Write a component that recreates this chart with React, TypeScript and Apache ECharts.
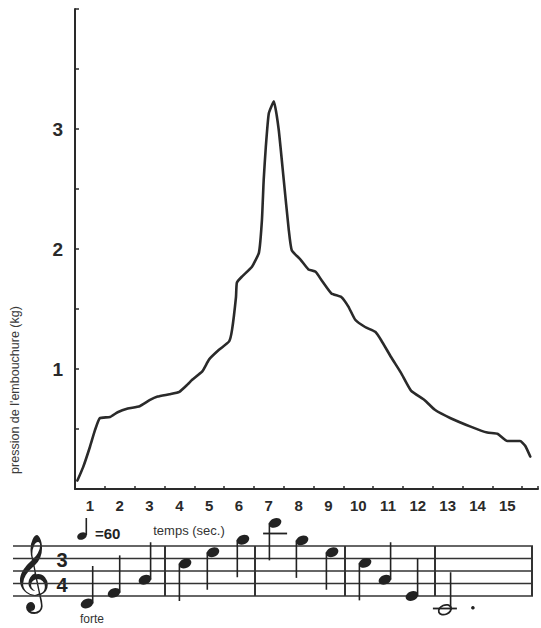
import React, { useEffect, useRef } from 'react';
import * as echarts from 'echarts';

// ---- curve data (time in seconds, mouthpiece pressure in kg) ----
const timeSec = [0.08, 0.27, 0.5, 0.67, 0.83, 1.17, 1.43, 1.77, 2.17, 2.5, 2.77, 3.17, 3.5, 3.77, 3.93, 4.27, 4.5, 4.83, 5.17, 5.27, 5.4, 5.43, 5.6, 5.93, 6.17, 6.27, 6.33, 6.4, 6.5, 6.67, 6.83, 7.0, 7.17, 7.27, 7.57, 7.83, 8.07, 8.27, 8.6, 8.93, 9.17, 9.4, 9.73, 10.07, 10.27, 10.6, 10.93, 11.27, 11.73, 12.07, 12.6, 13.27, 13.83, 14.17, 14.5, 14.93, 15.1, 15.27];
const pressureKg = [0.07, 0.18, 0.35, 0.49, 0.59, 0.6, 0.64, 0.67, 0.69, 0.74, 0.77, 0.79, 0.81, 0.87, 0.91, 0.98, 1.08, 1.16, 1.23, 1.33, 1.6, 1.72, 1.77, 1.85, 1.97, 2.24, 2.58, 2.85, 3.13, 3.23, 3.0, 2.58, 2.16, 1.99, 1.91, 1.83, 1.81, 1.74, 1.63, 1.6, 1.52, 1.41, 1.35, 1.31, 1.24, 1.1, 0.97, 0.82, 0.74, 0.66, 0.59, 0.52, 0.47, 0.46, 0.4, 0.4, 0.36, 0.27];

const xTickLabels = ['1', '2', '3', '4', '5', '6', '7', '8', '9', '10', '11', '12', '13', '14', '15'];
const yTickLabels = ['1', '2', '3'];

// ---- music staff (time of each note in seconds, staff step from E4 = 0) ----
const noteTimes = [0.4, 1.3, 2.33, 3.67, 4.6, 5.6, 6.67, 7.57, 8.57, 9.67, 10.33, 11.23, 12.33];
const noteSteps = [-1.2, 0.5, 2.6, 5.2, 7, 9, 11.7, 8.9, 7, 5.3, 2.6, 0, -2.2];
const noteStems = [1, 1, 1, -1, -1, -1, -1, -1, -1, -1, 1, 1, 1];
const noteBeats = [1, 1, 1, 1, 1, 1, 1, 1, 1, 1, 1, 1, 3];
const barTimes = [3, 6, 9, 12];
const staffLineSteps = [0, 2, 4, 6, 8];

const INK = '#2a2a2a';
const X_MAX = 15.53;
const STAFF_X_MIN = -2.0667;
const STAFF_X_MAX = 15.2667;

export default function App() {
  const ref = useRef<HTMLDivElement>(null);
  useEffect(() => {
    const chart = echarts.init(ref.current!, null, { renderer: 'svg' });

    const option: any = {
      animation: false,
      backgroundColor: '#ffffff',
      grid: [
        { left: 75, right: 0, top: 9, height: 480 },
        { left: 13, right: 8, top: 521, height: 100 },
      ],
      xAxis: [
        {
          gridIndex: 0, type: 'value', position: 'bottom', min: 0, max: X_MAX, interval: 1,
          axisLine: { show: true, lineStyle: { color: INK, width: 2 } },
          axisTick: { show: true, inside: true, length: 3, lineStyle: { color: INK, width: 1.5 } },
          axisLabel: { show: false },
          splitLine: { show: false },
        },
        {
          gridIndex: 0, type: 'value', position: 'bottom', offset: 0, min: 0, max: X_MAX, interval: 0.5,
          axisLine: { show: false }, axisTick: { show: false }, splitLine: { show: false },
          axisLabel: {
            show: true, margin: 9, fontSize: 15, fontWeight: 'bold', color: INK,
            fontFamily: 'Liberation Sans, Arial, sans-serif',
            formatter: (v: number) => {
              const idx = Math.round(v * 2);
              if (idx % 2 === 1) return xTickLabels[(idx - 1) / 2] ?? '';
              return '';
            },
          },
        },
        { gridIndex: 1, type: 'value', min: STAFF_X_MIN, max: STAFF_X_MAX, show: false },
      ],
      yAxis: [
        {
          gridIndex: 0, type: 'value', min: 0, max: 4, interval: 0.5,
          axisLine: { show: true, lineStyle: { color: INK, width: 2 } },
          axisTick: { show: true, inside: true, length: 4, lineStyle: { color: INK, width: 1.5 } },
          splitLine: { show: false },
          axisLabel: {
            show: true, margin: 12, fontSize: 19, fontWeight: 'bold', color: INK,
            fontFamily: 'Liberation Sans, Arial, sans-serif',
            formatter: (v: number) => (Number.isInteger(v) && v >= 1 && v <= 3 ? yTickLabels[v - 1] : ''),
          },
        },
        { gridIndex: 1, type: 'value', min: -4, max: 12, show: false },
      ],
      series: [
        {
          type: 'line', xAxisIndex: 0, yAxisIndex: 0,
          data: timeSec.map((t, i) => [t, pressureKg[i]]),
          showSymbol: false, smooth: 0.15,
          lineStyle: { color: INK, width: 2.6, join: 'round', cap: 'round' },
        },
        {
          type: 'custom', xAxisIndex: 2, yAxisIndex: 1,
          data: [[0, 0]],
          renderItem: (params: any, api: any) => {
            const children: any[] = [];
            const xL = api.coord([STAFF_X_MIN, 0])[0];
            const xR = api.coord([STAFF_X_MAX, 0])[0];
            staffLineSteps.forEach((s) => {
              const y = api.coord([0, s])[1];
              children.push({ type: 'line', shape: { x1: xL, y1: y, x2: xR, y2: y }, style: { stroke: '#333', lineWidth: 1.4 } });
            });
            const yTop = api.coord([0, 8])[1];
            const yBot = api.coord([0, 0])[1];
            [...barTimes, STAFF_X_MAX].forEach((t) => {
              const x = api.coord([t, 0])[0] - (t === STAFF_X_MAX ? 1 : 0);
              children.push({ type: 'line', shape: { x1: x, y1: yTop, x2: x, y2: yBot }, style: { stroke: '#333', lineWidth: 2 } });
            });
            return { type: 'group', children };
          },
        },
        {
          type: 'custom', xAxisIndex: 2, yAxisIndex: 1,
          data: noteTimes.map((t, i) => [t, noteSteps[i], noteStems[i], noteBeats[i]]),
          renderItem: (params: any, api: any) => {
            const t = api.value(0);
            const s = api.value(1);
            const dir = api.value(2);
            const beats = api.value(3);
            const [cx, cy] = api.coord([t, s]);
            const stepPx = Math.abs(api.coord([t, 0])[1] - api.coord([t, 1])[1]);
            const rx = 6.5;
            const ry = 4.6;
            const children: any[] = [];
            const ledgers: number[] = [];
            for (let l = 10; l <= s; l += 2) ledgers.push(l);
            for (let l = -2; l >= s - 0.6; l -= 2) ledgers.push(l);
            ledgers.forEach((l) => {
              const y = api.coord([t, l])[1];
              children.push({ type: 'line', shape: { x1: cx - 12, y1: y, x2: cx + 12, y2: y }, style: { stroke: '#222', lineWidth: 1.8 } });
            });
            const hollow = beats >= 2;
            children.push({
              type: 'ellipse', x: cx, y: cy, rotation: 0.4,
              shape: { cx: 0, cy: 0, rx, ry },
              style: hollow ? { fill: 'none', stroke: '#222', lineWidth: 1.8 } : { fill: '#222' },
            });
            const stemX = dir > 0 ? cx + rx - 0.8 : cx - rx + 0.8;
            const stemLen = 6 * stepPx;
            children.push({ type: 'line', shape: { x1: stemX, y1: cy, x2: stemX, y2: cy - dir * stemLen }, style: { stroke: '#222', lineWidth: 1.6 } });
            if (beats === 3) {
              children.push({ type: 'circle', shape: { cx: cx + 28, cy: cy - 2, r: 1.8 }, style: { fill: '#222' } });
            }
            return { type: 'group', children };
          },
        },
      ],
      graphic: [
        {
          type: 'text', x: 15, y: 390, rotation: Math.PI / 2,
          style: {
            text: "pression de l'embouchure (kg)", fontSize: 12.5, fill: '#3a3a3a',
            fontFamily: 'Liberation Sans, Arial, sans-serif', align: 'center', verticalAlign: 'middle',
          },
        },
        {
          type: 'text', x: 189, y: 530,
          style: { text: 'temps (sec.)', fontSize: 13, fill: '#333', fontFamily: 'Liberation Sans, Arial, sans-serif', align: 'center', verticalAlign: 'middle' },
        },
        {
          type: 'text', x: 92, y: 619,
          style: { text: 'forte', fontSize: 12, fill: '#333', fontFamily: 'Liberation Sans, Arial, sans-serif', align: 'center', verticalAlign: 'middle' },
        },
        // tempo mark: quarter note = 60
        { type: 'ellipse', x: 82, y: 536, rotation: 0.4, shape: { cx: 0, cy: 0, rx: 5, ry: 3.6 }, style: { fill: '#222' } },
        { type: 'line', shape: { x1: 86.3, y1: 535, x2: 86.3, y2: 518 }, style: { stroke: '#222', lineWidth: 1.6 } },
        {
          type: 'text', x: 95, y: 533,
          style: { text: '=60', fontSize: 15, fontWeight: 'bold', fill: '#222', fontFamily: 'Liberation Sans, Arial, sans-serif', align: 'left', verticalAlign: 'middle' },
        },
        // clef and time signature
        {
          type: 'text', x: 31, y: 572,
          style: { text: '\u{1D11E}', fontSize: 66, fill: '#222', fontFamily: 'DejaVu Sans, Noto Sans, serif', align: 'center', verticalAlign: 'middle' },
        },
        {
          type: 'text', x: 62, y: 560,
          style: { text: '3', fontSize: 20, fontWeight: 'bold', fill: '#222', fontFamily: 'Liberation Sans, Arial, sans-serif', align: 'center', verticalAlign: 'middle' },
        },
        {
          type: 'text', x: 62, y: 585,
          style: { text: '4', fontSize: 20, fontWeight: 'bold', fill: '#222', fontFamily: 'Liberation Sans, Arial, sans-serif', align: 'center', verticalAlign: 'middle' },
        },
      ],
    };

    chart.setOption(option);
    return () => chart.dispose();
  }, []);

  return (
    <div
      ref={ref}
      style={{ position: 'absolute', left: 0, top: 0, width: 541, height: 628, background: '#fff' }}
    />
  );
}
